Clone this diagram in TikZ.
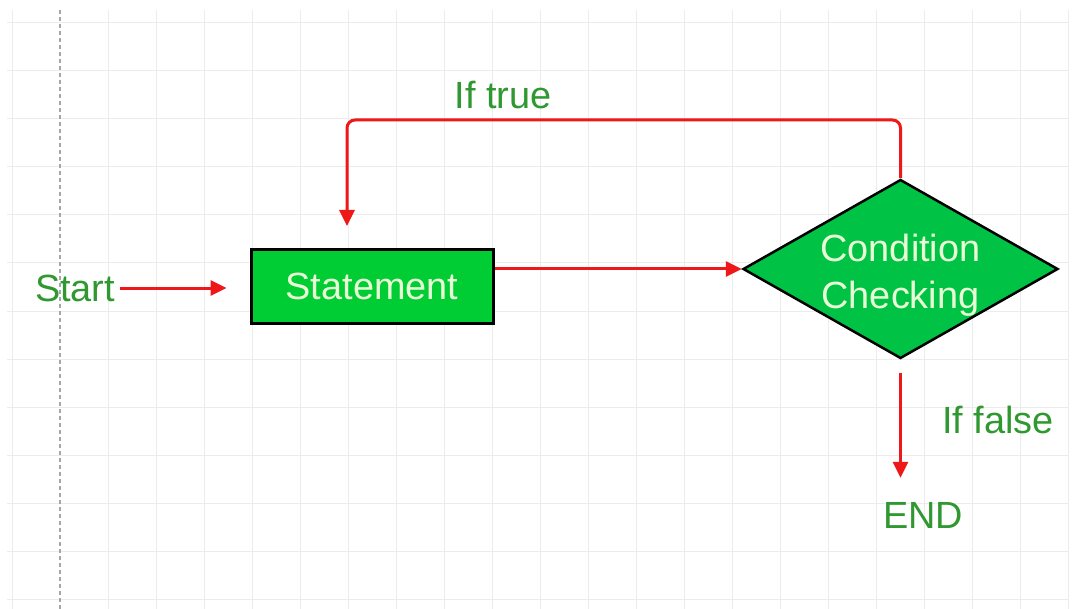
\documentclass[tikz,border=0pt]{standalone}
\usepackage{fontspec}
\setmainfont{Liberation Sans}
\usepackage{xcolor}
\usepackage{tikz}
\usetikzlibrary{positioning,shapes.geometric,arrows.meta}
\definecolor{boxgreen}{RGB}{0,204,51}
\definecolor{diagreen}{RGB}{0,194,68}
\definecolor{labelgreen}{RGB}{48,152,48}
\definecolor{arrowred}{RGB}{238,24,24}
\definecolor{palegreen}{RGB}{232,255,214}
\definecolor{gridgray}{RGB}{236,236,236}
\newcommand{\bigfont}{\fontsize{38}{47}\selectfont}
\newcommand{\twolines}[2]{\raisebox{-13bp}[0pt][0pt]{\begin{tabular}{@{}c@{}}#1\\#2\end{tabular}}}
\tikzset{
  process/.style={rectangle, draw=black, line width=3bp, fill=boxgreen, minimum width=242bp, minimum height=73bp, inner sep=0pt, text=palegreen, font=\bigfont},
  decision/.style={diamond, draw=black, line width=2.5bp, fill=diagreen, minimum width=315bp, minimum height=179bp, inner sep=0pt, text=palegreen, font=\bigfont},
  arrow/.style={line width=3bp, draw=arrowred, -{Triangle[length=16bp,width=15bp]}, rounded corners=8bp},
  annotation/.style={text=labelgreen, inner sep=2bp, font=\bigfont},
  gridline/.style={draw=gridgray, line width=1bp}
}

\begin{document}
\begin{tikzpicture}[x=1bp, y=-1bp]
  \useasboundingbox[fill=white] (0,0) rectangle (1072,609);
  % Grid
  \foreach \x in {12,108,...,1068} \draw[gridline] (\x,10) -- (\x,609);
  \foreach \x in {156,204,...,1068} \draw[gridline] (\x,10) -- (\x,609);
  \foreach \y in {23,71,...,599} \draw[gridline] (7,\y) -- (1068,\y);
  \draw[draw=gray!70, line width=1.3bp, dash pattern=on 4bp off 3bp] (60,10) -- (60,609);

  % Nodes
  \node (stmt) [process] at (372,286.5) {Statement};
  \node (check) [decision] at (900.5,269) {\twolines{Condition}{Checking}};
  \node (start) [annotation] at (75,288) {Start};
  \node (end) [annotation] at (923,515) {END};
  \coordinate (looptop) at (347,120);
  \coordinate (loopend) at (347,226);

  % Arrows
  \draw [arrow, shorten <=3bp, shorten >=23bp] (start.east) -- (start.east -| stmt.west);
  \draw [arrow] (stmt.east |- check.west) -- (check.west);
  \draw [arrow] (check.north) |- (looptop) -- (loopend);
  \draw [arrow, shorten <=13bp, shorten >=22bp] (check.south) -- (check.south |- end.north);

  % Annotations
  \node [annotation] at (503,95) {If true};
  \node [annotation] at (998,420) {If false};
\end{tikzpicture}
\end{document}
